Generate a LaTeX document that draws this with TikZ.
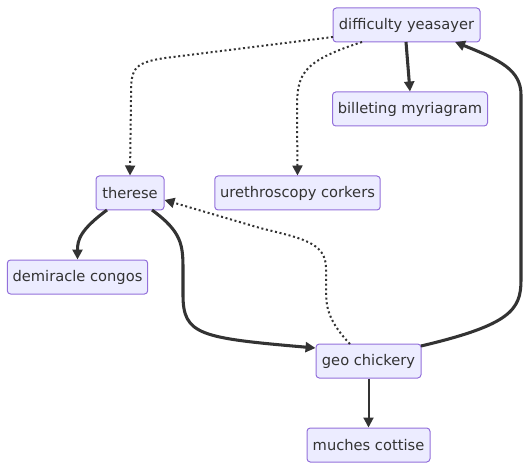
\documentclass[tikz,border=0pt]{standalone}
\usepackage{fontspec}
\setmainfont{DejaVu Sans}
\usetikzlibrary{arrows.meta}
\definecolor{nodefill}{HTML}{ECECFF}
\definecolor{nodeline}{HTML}{9370DB}
\definecolor{ink}{HTML}{333333}
\begin{document}
\begin{tikzpicture}[x=0.75pt,y=-0.75pt,
  box/.style={draw=nodeline,fill=nodefill,rounded corners=2.5pt,line width=0.75pt,
    minimum height=25.5pt,inner xsep=4pt,text=ink,font=\fontsize{11}{13}\selectfont},
  thick edge/.style={draw=ink,line width=2.3pt,-{Triangle[length=7.5pt,width=7.5pt]}},
  thin edge/.style={draw=ink,line width=1.5pt,-{Triangle[length=7.5pt,width=7.5pt]}},
  dot edge/.style={draw=ink,line width=1.5pt,dash pattern=on 1.5pt off 2pt,-{Triangle[length=7.5pt,width=7.5pt]}}]
\useasboundingbox (0,0) rectangle (531,470);
\node[box,minimum width=110.25pt] (dy) at (406.5,25) {difficulty yeasayer};
\node[box,minimum width=115.5pt] (bm) at (410,109) {billeting myriagram};
\node[box,minimum width=51pt] (th) at (130,193) {therese};
\node[box,minimum width=123.75pt] (uc) at (297.5,193) {urethroscopy corkers};
\node[box,minimum width=104.25pt] (dc) at (77.5,277) {demiracle congos};
\node[box,minimum width=78.75pt] (gc) at (368.5,361) {geo chickery};
\node[box,minimum width=92.25pt] (mc) at (368.5,445) {muches cottise};

\coordinate (dyA) at (333,37);
\coordinate (dyB) at (362,42);
\draw[thick edge] (406,42) -- (bm.north -| 410,0);
\draw[dot edge] (dyA) -- (165,58) .. controls (131,63) and (131,70) .. (131,100) -- (th.north);
\draw[dot edge] (dyB) .. controls (300,62) and (297,75) .. (297,110) -- (uc.north);
\coordinate (thA) at (107,210);
\coordinate (thB) at (152,210);
\draw[thick edge] (thA) .. controls (80,230) and (77.5,240) .. (dc.north);
\draw[thick edge] (thB) .. controls (182,232) and (183,245) .. (183,270) -- (183,295) .. controls (183,335) and (200,338) .. (gc.west |- 0,348);
\coordinate (gcA) at (350,344);
\draw[dot edge] (gcA) .. controls (327,320) and (326,305) .. (326,290) -- (326,268) .. controls (326,242) and (300,238) .. (260,228) -- (th.east |- 0,200);
\coordinate (gcB) at (421,346);
\draw[thick edge] (gcB) .. controls (510,325) and (521,310) .. (521,280) -- (521,95) .. controls (521,70) and (500,60) .. (455,42);
\draw[thin edge] (gc.south) -- (mc.north);
\end{tikzpicture}
\end{document}
